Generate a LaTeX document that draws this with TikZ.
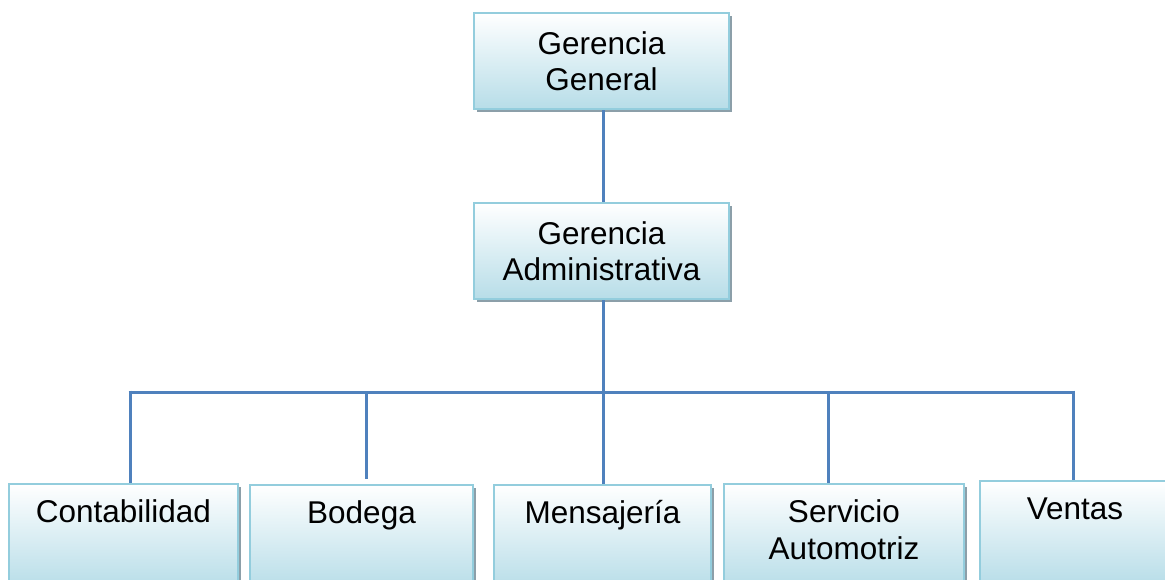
\documentclass[tikz,border=0pt]{standalone}
\usepackage{fontspec}
\setmainfont{Liberation Sans}
\usetikzlibrary{shadows}
\definecolor{connc}{HTML}{4F81BD}
\definecolor{bord}{HTML}{93CDDD}
\definecolor{fillb}{HTML}{B7DDE8}
\definecolor{shad}{HTML}{8C9FA9}
\begin{document}
\begin{tikzpicture}[x=1pt,y=1pt,
  box/.style={draw=bord, line width=2.5pt, top color=white, bottom color=fillb,
    minimum width=#1, minimum height=96pt, inner sep=0pt, align=center,
    font=\fontsize{31.5}{35.5}\selectfont,
    drop shadow={shadow xshift=3pt, shadow yshift=-3pt, fill=shad, opacity=1}},
  lowbox/.style={box=#1, minimum height=104pt},
  lbl/.style={anchor=base, yshift=-40pt, inner sep=0pt, align=center,
    font=\fontsize{31.5}{37}\selectfont},
  conn/.style={draw=connc, line width=3pt}]
\useasboundingbox (0,0) rectangle (1165,-580);
% top levels
\node[box=255pt] (gg) at (601.5,-61) {Gerencia\\General};
\node[box=255pt] (ga) at (601.5,-251) {Gerencia\\Administrativa};
% bottom boxes
\node[lowbox=229pt, label={[lbl]north:Contabilidad}] (c1) at (123.5,-536) {};
\node[lowbox=223pt, label={[lbl]north:Bodega}] (c2) at (361.5,-537) {};
\node[lowbox=217pt, label={[lbl]north:Mensajería}] (c3) at (602.5,-537) {};
\node[lowbox=240pt, label={[lbl, yshift=-37pt]north:Servicio\\Automotriz}] (c4) at (844,-536) {};
\node[lowbox=190pt, label={[lbl]north:Ventas}] (c5) at (1075,-533) {};
% bus taps
\coordinate (t1) at (130,-392);
\coordinate (t2) at (366,-392);
\coordinate (t3) at (603,-392);
\coordinate (t4) at (828,-392);
\coordinate (t5) at (1073,-392);
% connectors
\draw[conn] (gg.south -| t3) -- (ga.north -| t3);
\draw[conn] (ga.south -| t3) -- (t3);
\draw[conn] ([xshift=-1.5pt]t1) -- ([xshift=1.5pt]t5);
\draw[conn] ([yshift=1.5pt]t1) -- (c1.north -| t1);
\draw[conn] (t2) -- ([yshift=5pt]c2.north -| t2);
\draw[conn] (t3) -- (c3.north -| t3);
\draw[conn] (t4) -- (c4.north -| t4);
\draw[conn] ([yshift=1.5pt]t5) -- (c5.north -| t5);
\end{tikzpicture}
\end{document}
